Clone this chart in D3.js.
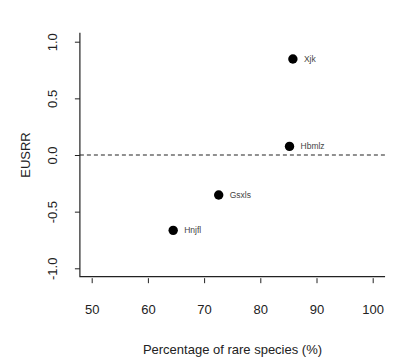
<!DOCTYPE html>
<html><head><meta charset="utf-8">
<script src="https://cdn.jsdelivr.net/npm/d3@7"></script>
<style>body{margin:0;background:#fff;} text{font-family:"Liberation Sans",Arial,sans-serif;}</style>
</head><body>
<svg id="c" width="400" height="364"></svg>
<script>
const names = ["Xjk","Hbmlz","Gsxls","Hnjfl"];
const xVals = [85.8, 85.2, 72.6, 64.5];
const yVals = [0.847, 0.076, -0.353, -0.665];
const xTicks = [50,60,70,80,90,100];
const yTicks = [-1.0,-0.5,0.0,0.5,1.0];

const svg = d3.select("#c");
const x = d3.scaleLinear().domain([50,100]).range([91.7,372.7]);
const y = d3.scaleLinear().domain([-1,1]).range([268.3,41.7]);
const x0 = x(47.9), x1 = x(102.2), yTop = y(1.08), yBot = y(-1.074);

// L-shaped box
svg.append("path").attr("d",`M${x0},${yTop}V${yBot}H${x1}`).attr("fill","none").attr("stroke","#222").attr("stroke-width",1.2);

// x axis ticks
const gx = svg.append("g").attr("transform",`translate(0,${yBot+1.5})`)
  .call(d3.axisBottom(x).tickValues(xTicks).tickSize(5).tickPadding(22).tickFormat(d3.format("d")));
gx.select(".domain").remove();
gx.selectAll("line").attr("stroke","#222");
gx.selectAll("text").attr("font-size",13).attr("fill","#222").attr("font-family","Liberation Sans, Arial, sans-serif");

// y axis ticks
const gy = svg.append("g").attr("transform",`translate(${x0},0)`)
  .call(d3.axisLeft(y).tickValues(yTicks).tickSize(5).tickPadding(0).tickFormat(d3.format(".1f")));
gy.select(".domain").remove();
gy.selectAll("line").attr("stroke","#222");
gy.selectAll("text").remove();
gy.selectAll(".tick").append("text")
  .attr("transform","translate(-27,0) rotate(-90)")
  .attr("text-anchor","middle").attr("dy","0.35em")
  .attr("font-size",13).attr("fill","#222")
  .text(d=>d3.format(".1f")(d).replace("\u2212","-"));

// dashed zero line
svg.append("line").attr("x1",x0).attr("x2",x1).attr("y1",y(0)).attr("y2",y(0))
  .attr("stroke","#222").attr("stroke-width",1.1).attr("stroke-dasharray","4,3");

// points
const data = names.map((n,i)=>({n,x:xVals[i],y:yVals[i]}));
svg.selectAll("circle.p").data(data).join("circle").attr("class","p")
  .attr("cx",d=>x(d.x)).attr("cy",d=>y(d.y)).attr("r",4.7).attr("fill","#000");
svg.selectAll("text.lab").data(data).join("text").attr("class","lab")
  .attr("x",d=>x(d.x)+11).attr("y",d=>y(d.y)).attr("dy","0.35em")
  .attr("font-size",8.5).attr("fill","#444").text(d=>d.n);

// titles
svg.append("text").attr("x",(x0+x1)/2).attr("y",349).attr("dy","0.35em").attr("text-anchor","middle")
  .attr("font-size",13).attr("fill","#222").text("Percentage of rare species (%)");
svg.append("text").attr("transform",`translate(25,${y(0)}) rotate(-90)`).attr("dy","0.35em").attr("text-anchor","middle")
  .attr("font-size",13).attr("fill","#222").text("EUSRR");
</script>
</body></html>
